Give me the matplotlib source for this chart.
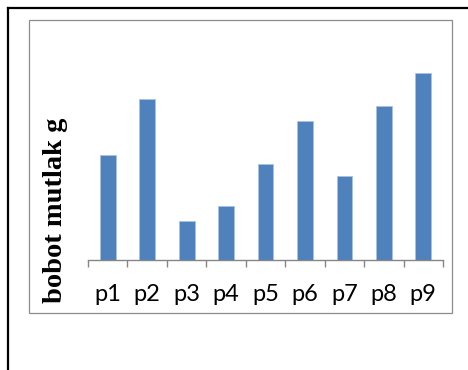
import matplotlib
matplotlib.use("Agg")
import matplotlib.pyplot as plt
from matplotlib.lines import Line2D
from matplotlib.patches import Rectangle
import numpy as np

categories = ["p1", "p2", "p3", "p4", "p5", "p6", "p7", "p8", "p9"]
values = [105, 161, 39, 54, 96, 139, 84, 154, 187]

W, H = 468, 370
fig = plt.figure(figsize=(W / 100, H / 100), dpi=100)

# outer black frame (left + top only)
fig.add_artist(Line2D([8 / W, 8 / W], [0, 1 - 8 / H], color="black", lw=1.6,
                      transform=fig.transFigure))
fig.add_artist(Line2D([8 / W, 1], [1 - 8 / H, 1 - 8 / H], color="black", lw=1.6,
                      transform=fig.transFigure))
# grey chart border
fig.add_artist(Rectangle((29 / W, 1 - 313 / H), (452 - 29) / W, (313 - 20) / H,
                         fill=False, edgecolor="#8c8c8c", lw=0.9,
                         transform=fig.transFigure))

ax = fig.add_axes([88 / W, 1 - 260 / H, (443 - 88) / W, 230 / H])
x = np.arange(len(categories))
ax.bar(x, values, width=0.4, color="#4f81bd", edgecolor="#a9c2e0", linewidth=0.6)
ax.set_xlim(-0.5, len(categories) - 0.5)
ax.set_ylim(0, 230)

for s in ["top", "right", "left"]:
    ax.spines[s].set_visible(False)
ax.spines["bottom"].set_color("#868686")
ax.spines["bottom"].set_linewidth(1.0)
ax.set_yticks([])

ax.set_xticks(x)
ax.set_xticklabels(categories, fontsize=17, family="Lato")
ax.set_xticks(np.arange(len(categories) + 1) - 0.5, minor=True)
ax.tick_params(axis="x", which="major", length=0, pad=17)
ax.tick_params(axis="x", which="minor", length=5, color="#868686", width=1.0)

fig.text(55 / W, 1 - 210 / H, "bobot mutlak g", rotation=90, ha="center", va="center",
         fontsize=20.5, fontweight="bold", family="Liberation Serif")

fig.savefig("out.png", dpi=100)
